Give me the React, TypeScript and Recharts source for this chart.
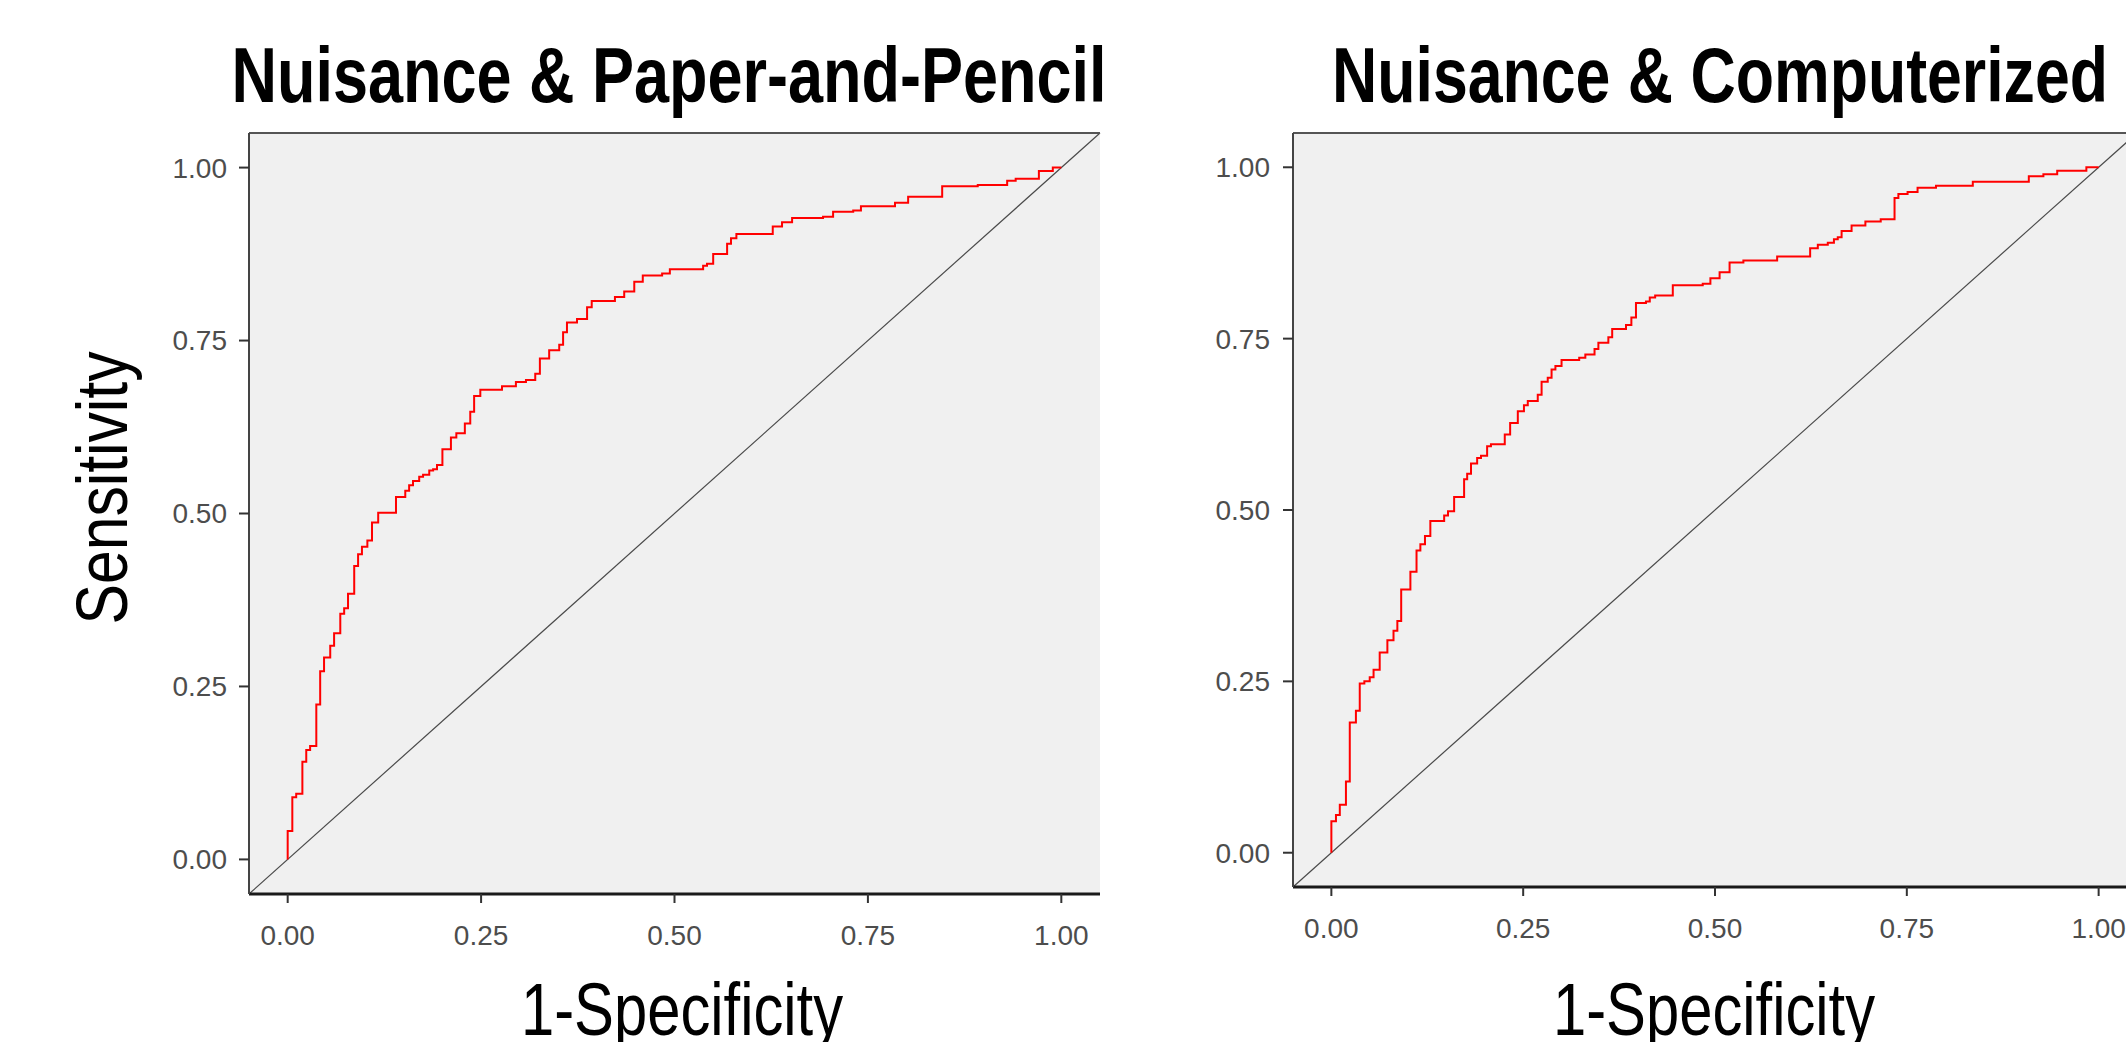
import React from "react";
import { LineChart, Line, XAxis, YAxis, CartesianGrid, Label } from "recharts";

// ---- data ----
const TICK_VALUES = [0, 0.25, 0.5, 0.75, 1];
const TICK_LABELS = ["0.00", "0.25", "0.50", "0.75", "1.00"];
const AXIS_DOMAIN = [-0.05, 1.05];
const DIAGONAL = [-0.05, 1.05];

const TITLES = ["Nuisance & Paper-and-Pencil", "Nuisance & Computerized"];
const X_TITLE = "1-Specificity";
const Y_TITLE = "Sensitivity";

const paperFpr = [
  0, 0, 0.006, 0.011, 0.019, 0.024, 0.029, 0.037, 0.042, 0.047, 0.055, 0.06, 0.068, 0.073, 0.078,
  0.086, 0.091, 0.096, 0.103, 0.109, 0.117, 0.14, 0.152, 0.157, 0.162, 0.17, 0.175, 0.183, 0.188,
  0.193, 0.2, 0.211, 0.218, 0.229, 0.236, 0.241, 0.249, 0.277, 0.295, 0.308, 0.32, 0.326, 0.338,
  0.351, 0.356, 0.361, 0.374, 0.387, 0.393, 0.423, 0.435, 0.448, 0.459, 0.484, 0.494, 0.537, 0.542,
  0.55, 0.568, 0.573, 0.58, 0.627, 0.639, 0.652, 0.692, 0.705, 0.731, 0.741, 0.785, 0.802, 0.846,
  0.892, 0.93, 0.941, 0.971, 0.989, 1.0,
];
const paperTpr = [
  0, 0.041, 0.09, 0.095, 0.141, 0.158, 0.164, 0.224, 0.272, 0.292, 0.309, 0.327, 0.355, 0.363, 0.384,
  0.424, 0.441, 0.452, 0.461, 0.487, 0.501, 0.524, 0.533, 0.541, 0.547, 0.553, 0.556, 0.562, 0.564,
  0.57, 0.593, 0.61, 0.616, 0.63, 0.647, 0.67, 0.679, 0.684, 0.69, 0.693, 0.702, 0.724, 0.736,
  0.744, 0.762, 0.776, 0.781, 0.798, 0.807, 0.813, 0.821, 0.835, 0.844, 0.847, 0.853, 0.858, 0.861,
  0.875, 0.89, 0.898, 0.904, 0.915, 0.921, 0.927, 0.929, 0.936, 0.938, 0.944, 0.949, 0.958, 0.973,
  0.975, 0.981, 0.984, 0.995, 1.0, 1.0,
];

const compFpr = [
  0, 0, 0.006, 0.011, 0.019, 0.024, 0.032, 0.037, 0.043, 0.05, 0.055, 0.063, 0.073, 0.081, 0.086,
  0.091, 0.103, 0.111, 0.116, 0.122, 0.129, 0.147, 0.152, 0.16, 0.173, 0.177, 0.182, 0.19, 0.195,
  0.203, 0.208, 0.226, 0.233, 0.243, 0.251, 0.256, 0.269, 0.274, 0.282, 0.287, 0.292, 0.3, 0.323,
  0.331, 0.343, 0.348, 0.361, 0.366, 0.384, 0.391, 0.397, 0.41, 0.415, 0.422, 0.445, 0.484, 0.494,
  0.506, 0.519, 0.537, 0.581, 0.624, 0.634, 0.647, 0.655, 0.66, 0.665, 0.678, 0.696, 0.716, 0.734,
  0.739, 0.751, 0.764, 0.788, 0.836, 0.909, 0.928, 0.946, 0.984, 1.0,
];
const compTpr = [
  0, 0.046, 0.055, 0.07, 0.104, 0.19, 0.207, 0.247, 0.25, 0.256, 0.267, 0.292, 0.31, 0.324, 0.338,
  0.384, 0.41, 0.441, 0.45, 0.462, 0.484, 0.492, 0.498, 0.519, 0.545, 0.553, 0.568, 0.576, 0.579,
  0.593, 0.596, 0.61, 0.627, 0.644, 0.653, 0.659, 0.668, 0.687, 0.693, 0.705, 0.71, 0.719, 0.722,
  0.727, 0.735, 0.744, 0.752, 0.764, 0.77, 0.781, 0.802, 0.804, 0.81, 0.813, 0.828, 0.83, 0.838,
  0.847, 0.861, 0.864, 0.87, 0.882, 0.887, 0.89, 0.895, 0.898, 0.907, 0.915, 0.921, 0.924, 0.955,
  0.961, 0.964, 0.97, 0.973, 0.979, 0.987, 0.99, 0.995, 1.0, 1.0,
];

const NARROW = "'Liberation Sans Narrow','Arial Narrow','Liberation Sans',Arial,sans-serif";
const SANS = "'Liberation Sans',Arial,sans-serif";

type PanelProps = {
  fpr: number[];
  tpr: number[];
  title: string;
  titleLen: number;
  titleCx: number;
  xTitleCx: number;
  showY: boolean;
  left: number;
  width: number;
  yAxisWidth: number;
  bottomH: number;
  rightMargin: number;
  yTickMargin: number;
};

function Panel(p: PanelProps) {
  const roc = p.fpr.map((x, i) => ({ x, y: p.tpr[i] }));
  const diag = DIAGONAL.map((v) => ({ x: v, y: v }));
  const fmt = (v: number) => TICK_LABELS[TICK_VALUES.indexOf(v)] ?? v.toFixed(2);
  const tickStyle = { fill: "#4d4d4d", fontSize: 28, fontFamily: SANS };

  return (
    <div style={{ position: "absolute", left: p.left, top: 0 }}>
      <LineChart
        width={p.width}
        height={1042}
        margin={{ top: 0, right: p.rightMargin, bottom: 0, left: 0 }}
      >
        <CartesianGrid
          xAxisId="b"
          yAxisId="l"
          horizontal={false}
          vertical={false}
          fill="#f0f0f0"
          stroke="none"
        />
        <XAxis
          xAxisId="t"
          orientation="top"
          type="number"
          dataKey="x"
          domain={AXIS_DOMAIN}
          height={133}
          tick={false}
          tickLine={false}
          axisLine={{ stroke: "#555555", strokeWidth: 2 }}
        >
          <Label
            content={() => (
              <text
                x={p.titleCx}
                y={102}
                textAnchor="middle"
                fontFamily={NARROW}
                fontWeight="bold"
                fontSize={77}
                textLength={p.titleLen}
                lengthAdjust="spacingAndGlyphs"
                fill="#000000"
              >
                {p.title}
              </text>
            )}
          />
        </XAxis>
        <XAxis
          xAxisId="b"
          orientation="bottom"
          type="number"
          dataKey="x"
          domain={AXIS_DOMAIN}
          ticks={TICK_VALUES}
          interval={0}
          tickFormatter={fmt}
          height={p.bottomH}
          tickSize={9}
          tickMargin={22}
          tick={tickStyle}
          tickLine={{ stroke: "#333333", strokeWidth: 2 }}
          axisLine={{ stroke: "#1a1a1a", strokeWidth: 3 }}
        >
          <Label
            content={() => (
              <text
                x={p.xTitleCx}
                y={1035}
                textAnchor="middle"
                fontFamily={NARROW}
                fontSize={74}
                textLength={322}
                lengthAdjust="spacingAndGlyphs"
                fill="#000000"
              >
                {X_TITLE}
              </text>
            )}
          />
        </XAxis>
        <YAxis
          yAxisId="l"
          type="number"
          domain={AXIS_DOMAIN}
          ticks={TICK_VALUES}
          interval={0}
          tickFormatter={fmt}
          width={p.yAxisWidth}
          tickSize={10}
          tickMargin={p.yTickMargin}
          tick={tickStyle}
          tickLine={{ stroke: "#333333", strokeWidth: 2 }}
          axisLine={{ stroke: "#444444", strokeWidth: 2 }}
        >
          {p.showY ? (
            <Label
              content={() => (
                <text
                  transform="translate(127,488) rotate(-90)"
                  textAnchor="middle"
                  fontFamily={NARROW}
                  fontSize={73}
                  textLength={273}
                  lengthAdjust="spacingAndGlyphs"
                  fill="#000000"
                >
                  {Y_TITLE}
                </text>
              )}
            />
          ) : null}
        </YAxis>
        <YAxis
          yAxisId="r"
          orientation="right"
          type="number"
          domain={AXIS_DOMAIN}
          width={0}
          tick={false}
          tickLine={false}
          axisLine={{ stroke: "#1a1a1a", strokeWidth: 3 }}
        />
        <Line
          xAxisId="b"
          yAxisId="l"
          data={diag}
          dataKey="y"
          type="linear"
          stroke="#4a4a4a"
          strokeWidth={1.2}
          dot={false}
          activeDot={false}
          isAnimationActive={false}
        />
        <Line
          xAxisId="b"
          yAxisId="l"
          data={roc}
          dataKey="y"
          type="stepAfter"
          stroke="#ff0000"
          strokeWidth={2}
          dot={false}
          activeDot={false}
          isAnimationActive={false}
        />
      </LineChart>
    </div>
  );
}

export default function App() {
  return (
    <div
      style={{
        position: "absolute",
        left: 0,
        top: 0,
        width: 2126,
        height: 1042,
        overflow: "hidden",
        background: "#ffffff",
      }}
    >
      <Panel
        fpr={paperFpr}
        tpr={paperTpr}
        title={TITLES[0]}
        titleLen={875}
        titleCx={669}
        xTitleCx={682}
        showY={true}
        left={0}
        width={1120}
        yAxisWidth={249}
        bottomH={148}
        rightMargin={20}
        yTickMargin={12}
      />
      <Panel
        fpr={compFpr}
        tpr={compTpr}
        title={TITLES[1]}
        titleLen={776}
        titleCx={590}
        xTitleCx={584}
        showY={false}
        left={1130}
        width={1007}
        yAxisWidth={163}
        bottomH={155}
        rightMargin={0}
        yTickMargin={13}
      />
    </div>
  );
}
